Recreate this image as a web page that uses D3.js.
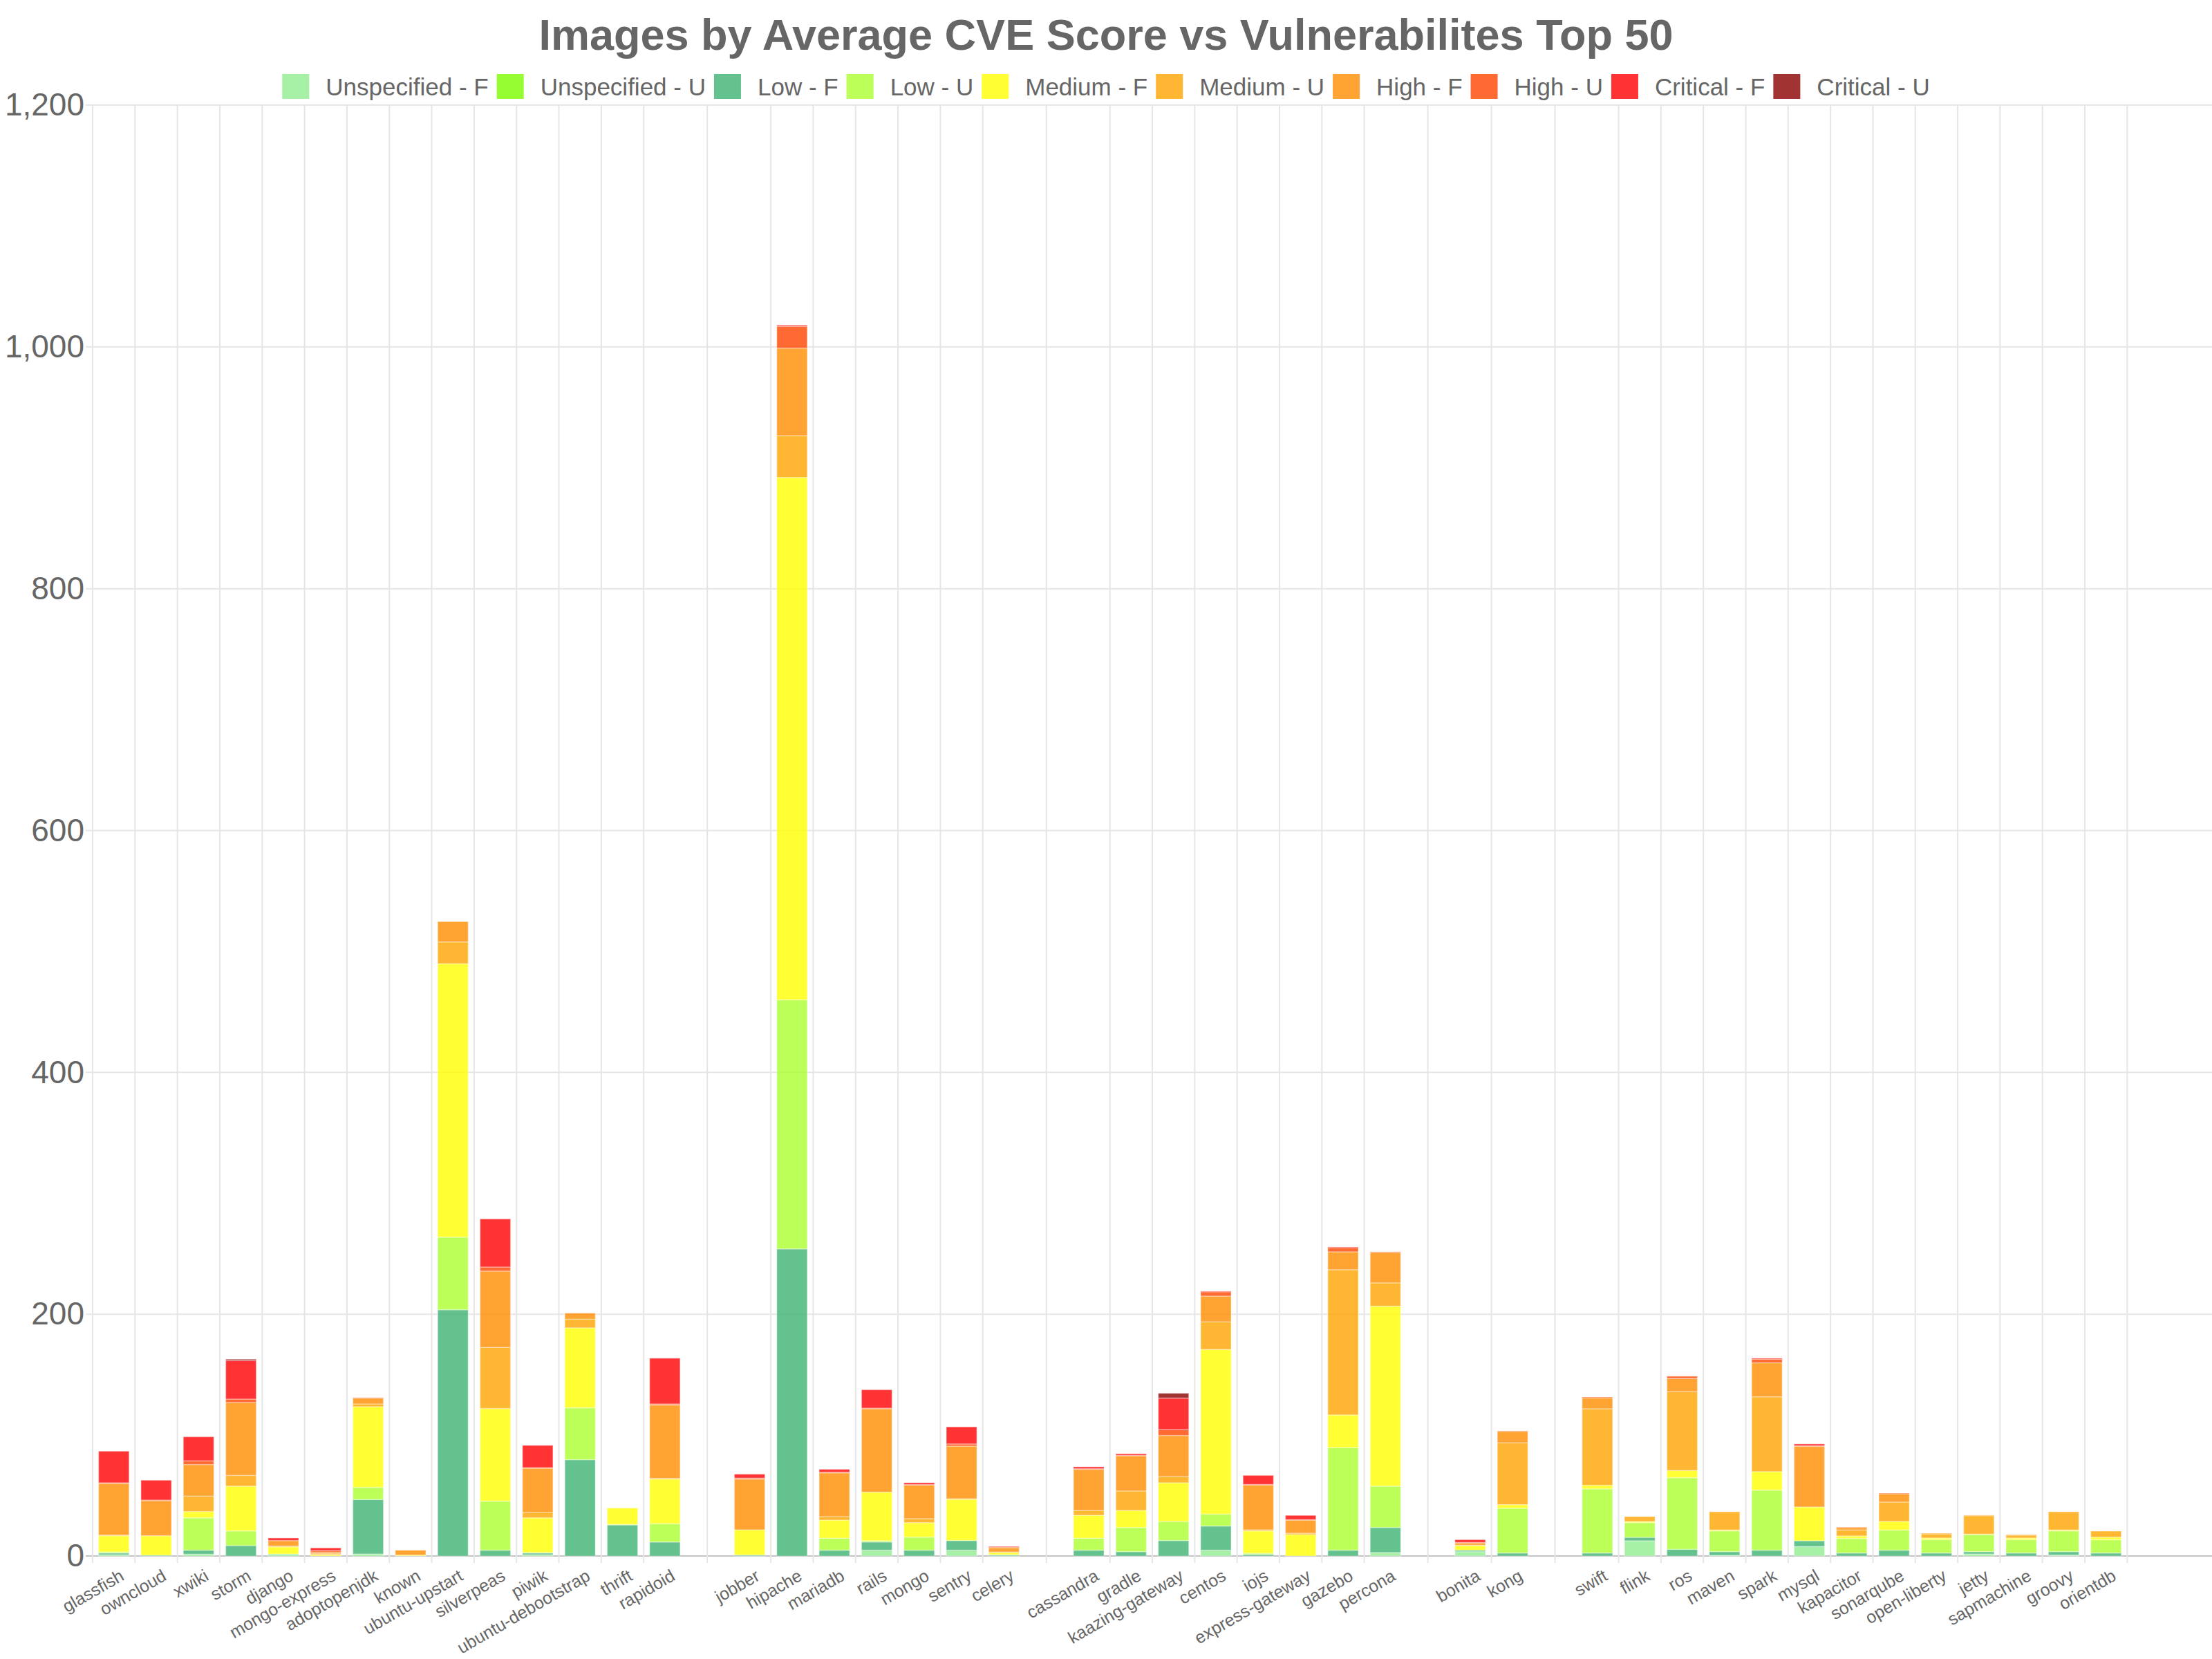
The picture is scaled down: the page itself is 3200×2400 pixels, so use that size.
<!DOCTYPE html>
<html>
<head>
<meta charset="utf-8">
<script src="https://cdn.jsdelivr.net/npm/d3@7"></script>
<style>
  body { margin: 0; background: #fff; }
  text { font-family: "Liberation Sans", Arial, Helvetica, sans-serif; fill: #666; }
</style>
</head>
<body>
<div id="chart"></div>
<script>
// image names, "" marks an empty slot on the axis
const images = ["glassfish", "owncloud", "xwiki", "storm", "django", "mongo-express", "adoptopenjdk", "known",
  "ubuntu-upstart", "silverpeas", "piwik", "ubuntu-debootstrap", "thrift", "rapidoid", "",
  "jobber", "hipache", "mariadb", "rails", "mongo", "sentry", "celery", "",
  "cassandra", "gradle", "kaazing-gateway", "centos", "iojs", "express-gateway", "gazebo", "percona", "",
  "bonita", "kong", "",
  "swift", "flink", "ros", "maven", "spark", "mysql", "kapacitor", "sonarqube", "open-liberty", "jetty",
  "sapmachine", "groovy", "orientdb", "", ""];

const seriesNames = ["Unspecified - F", "Unspecified - U", "Low - F", "Low - U", "Medium - F",
  "Medium - U", "High - F", "High - U", "Critical - F", "Critical - U"];
const seriesColors = ["lightgreen", "lawngreen", "mediumseagreen", "greenyellow", "yellow",
  "orange", "darkorange", "orangered", "red", "darkred"];

const unspecifiedF = [1.0, 0, 1.5, 0, 1.7, 0, 1.7, 0, 0, 0, 1, 0, 0, 0, 0,
  0, 0, 0, 4.8, 0, 4.8, 0, 0,
  0, 0, 0, 4.8, 0, 0, 0, 2.9, 0,
  3.6, 0, 0,
  0, 12.6, 0, 0.6, 0, 7.8, 0, 0, 0, 1.7, 0, 0.8, 0, 0, 0];
const unspecifiedU = [0, 0, 0, 0, 0, 0, 0, 0, 0, 0, 0, 0, 0, 0, 0,
  0, 0, 0, 0, 0, 0, 0, 0,
  0, 0, 0, 0, 0, 0, 0, 0, 0,
  0, 0, 0,
  0, 0, 0, 0, 0, 0, 0, 0, 0, 0, 0, 0, 0, 0, 0];
const lowF = [1.5, 0.6, 3.3, 8.6, 0, 0, 45, 0, 203.7, 4.8, 1.5, 79.7, 25.7, 11.6, 0,
  0.8, 254, 4.8, 6.8, 4.8, 8, 0.8, 0,
  4.8, 3.6, 12.8, 20, 1.3, 0, 4.8, 20.7, 0,
  1.2, 2.5, 0,
  2.5, 2.8, 5.5, 3, 4.8, 4.8, 2.5, 4.8, 2.5, 1.9, 2.5, 2.8, 2.5, 0, 0];
const lowU = [0.9, 0, 26.8, 12.2, 0, 0, 10.1, 0, 60, 40.6, 0.4, 42.9, 0.4, 15.1, 0,
  0, 206, 9.9, 1, 10.8, 0, 0.3, 0,
  9.9, 20, 15.8, 9.9, 1, 0, 84.8, 34.2, 0,
  0, 37, 0,
  53, 12.2, 59.3, 17.2, 49.7, 0, 12, 16.7, 11, 14.1, 11, 17.2, 11, 0, 0];
const mediumF = [13.4, 16.2, 5.2, 37, 5.9, 1, 66.7, 0.8, 226.2, 76.6, 28.7, 66.1, 13.6, 37, 0,
  20.9, 432, 15, 40.2, 12, 34.1, 1.8, 0,
  19, 14.1, 32, 136.1, 18.5, 17.7, 27.1, 148.8, 0,
  3.8, 3, 0,
  3, 1, 5.9, 0.7, 15.3, 28, 2.1, 7.1, 1.4, 0.4, 1.4, 0.7, 2.1, 0, 0];
const mediumU = [0.5, 0, 12.8, 8.9, 0.6, 0.9, 2.3, 0, 18, 50.5, 4.4, 7.2, 0, 0.5, 0,
  0, 34.5, 2.9, 0, 3.3, 0.5, 0.4, 0,
  3.9, 16.1, 5, 22.9, 0.9, 1.2, 120.1, 19.3, 0,
  0.4, 51.1, 0,
  63.3, 4, 65.2, 15.1, 61.9, 0, 4.9, 16, 3.4, 15.3, 2.4, 15.1, 5, 0, 0];
const highF = [42.7, 29, 26.1, 60.3, 4.6, 1.3, 4.8, 4, 16.8, 63.2, 36.6, 5, 0, 60.7, 0,
  42, 72.5, 36.2, 69, 27.8, 43.5, 3.6, 0,
  34.1, 29.1, 34.1, 21.3, 37, 10.8, 14.8, 25.2, 0,
  1.9, 9.5, 0,
  9, 0, 10.9, 0, 28.1, 50.1, 2.1, 6.9, 0.5, 0.4, 0.4, 0, 0, 0, 0];
const highU = [0.6, 0.5, 3, 2.8, 0, 1.2, 0.4, 0, 0, 3.3, 0.5, 0, 0, 0.9, 0,
  0.7, 18, 0.5, 0.5, 0.4, 1.8, 0.7, 0,
  0.5, 0.4, 4.8, 3.6, 0.5, 0.4, 3.5, 0.5, 0,
  0.3, 0.4, 0,
  0.7, 0, 1.9, 0, 3, 0.5, 0.3, 0.5, 0, 0, 0, 0, 0, 0, 0];
const criticalF = [26.1, 16.4, 19.9, 31.9, 2.1, 2.3, 0, 0, 0, 39.8, 18.4, 0, 0, 37.8, 0,
  3.3, 1, 2.4, 15.2, 1.5, 14.1, 0.4, 0,
  1.6, 1.3, 26.1, 0.4, 7.5, 3.5, 0.5, 0, 0,
  2.3, 0, 0,
  0, 0, 0, 0, 0.8, 1.5, 0, 0, 0, 0, 0, 0, 0, 0, 0];
const criticalU = [0, 0, 0, 1.1, 0, 0, 0, 0, 0, 0, 0, 0, 0, 0, 0,
  0, 0, 0, 0, 0, 0, 0, 0,
  0, 0, 4, 0, 0, 0, 0, 0, 0,
  0, 0, 0,
  0, 0, 0, 0, 0, 0, 0, 0, 0, 0, 0, 0, 0, 0, 0];

const yTicks = [0, 200, 400, 600, 800, 1000, 1200];

const seriesValues = [unspecifiedF, unspecifiedU, lowF, lowU, mediumF, mediumU, highF, highU, criticalF, criticalU];

const width = 3200, height = 2400;
const margin = {top: 152, right: 0, bottom: 149, left: 134};

const svg = d3.select("#chart").append("svg")
  .attr("width", width)
  .attr("height", height);

svg.append("rect").attr("width", width).attr("height", height).attr("fill", "#fff");

// title
svg.append("text")
  .attr("x", width / 2)
  .attr("y", 72)
  .attr("text-anchor", "middle")
  .style("font-size", "63px")
  .style("font-weight", "bold")
  .text("Images by Average CVE Score vs Vulnerabilites Top 50");

// legend, laid out after measuring the labels
const legend = svg.append("g");
const items = legend.selectAll("g").data(seriesNames).join("g");
items.append("rect")
  .attr("y", 107)
  .attr("width", 39)
  .attr("height", 36)
  .attr("fill", (d, i) => seriesColors[i])
  .attr("fill-opacity", 0.8);
items.append("text")
  .attr("x", 63)
  .attr("y", 138)
  .style("font-size", "35px")
  .text(d => d);
const itemW = [];
items.each(function() { itemW.push(63 + d3.select(this).select("text").node().getComputedTextLength()); });
const legendTotal = d3.sum(itemW) + 12 * (itemW.length - 1);
let lx = width / 2 - legendTotal / 2;
items.attr("transform", (d, i) => {
  const t = `translate(${lx},0)`;
  lx += itemW[i] + 12;
  return t;
});

// scales
const x = d3.scaleBand()
  .domain(d3.range(images.length))
  .range([margin.left, width - margin.right]);
const y = d3.scaleLinear()
  .domain([0, 1200])
  .range([height - margin.bottom, margin.top]);

// horizontal grid
svg.append("g").selectAll("line").data(yTicks).join("line")
  .attr("x1", margin.left - 10)
  .attr("x2", width - margin.right)
  .attr("y1", d => y(d))
  .attr("y2", d => y(d))
  .attr("stroke", d => d === 0 ? "#c4c4c4" : "#e6e6e6")
  .attr("stroke-width", 2);

// vertical grid: between neighbouring images and in the middle of empty slots
const vLines = [x(0)];
images.forEach((name, i) => {
  if (i === 0) return;
  const prev = images[i - 1];
  const next = images[i + 1];
  if (name !== "" && prev !== "") vLines.push(x(i));
  else if (name === "" && prev !== "" && next === undefined) vLines.push(x(i));
  else if (name === "" && prev !== "" && next !== "") vLines.push(x(i) + x.bandwidth() / 2);
  else if (name === "" && prev !== "" && next === "") vLines.push(x(i));
});
svg.append("g").selectAll("line").data(vLines).join("line")
  .attr("x1", d => d)
  .attr("x2", d => d)
  .attr("y1", margin.top)
  .attr("y2", height - margin.bottom + 10)
  .attr("stroke", "#e6e6e6")
  .attr("stroke-width", 2);

// stacked bars
const rows = images.map((name, i) => {
  const row = {idx: i};
  seriesNames.forEach((s, k) => { row[s] = seriesValues[k][i]; });
  return row;
});
const stacked = d3.stack().keys(seriesNames)(rows);
const barW = x.bandwidth() * 0.72;

svg.append("g").selectAll("g").data(stacked).join("g")
  .attr("fill", (d, k) => seriesColors[k])
  .selectAll("rect").data(d => d.filter(p => p[1] - p[0] > 0)).join("rect")
  .attr("x", p => x(p.data.idx) + (x.bandwidth() - barW) / 2)
  .attr("width", barW)
  .attr("y", p => y(p[1]))
  .attr("height", p => y(p[0]) - y(p[1]))
  .attr("fill-opacity", 0.8)
  .attr("stroke", "rgba(255,255,255,0.35)")
  .attr("stroke-width", 1.5);

// y axis
const yAxis = svg.append("g")
  .attr("transform", `translate(${margin.left},0)`)
  .call(d3.axisLeft(y).tickValues(yTicks).tickFormat(d3.format(",")).tickSize(0).tickPadding(12));
yAxis.select(".domain").remove();
yAxis.selectAll("text")
  .style("font-size", "46px")
  .style("font-family", "'Liberation Sans', Arial, sans-serif")
  .attr("fill", "#666");

// x axis labels
const xAxis = svg.append("g")
  .attr("transform", `translate(0,${height - margin.bottom})`)
  .call(d3.axisBottom(x).tickFormat(i => images[i]).tickSize(0));
xAxis.select(".domain").remove();
xAxis.selectAll("text")
  .attr("x", 0)
  .attr("y", 0)
  .attr("dy", "0.35em")
  .attr("text-anchor", "end")
  .attr("transform", "translate(12,26) rotate(-30)")
  .style("font-size", "25px")
  .style("font-family", "'Liberation Sans', Arial, sans-serif")
  .attr("fill", "#666");
</script>
</body>
</html>
